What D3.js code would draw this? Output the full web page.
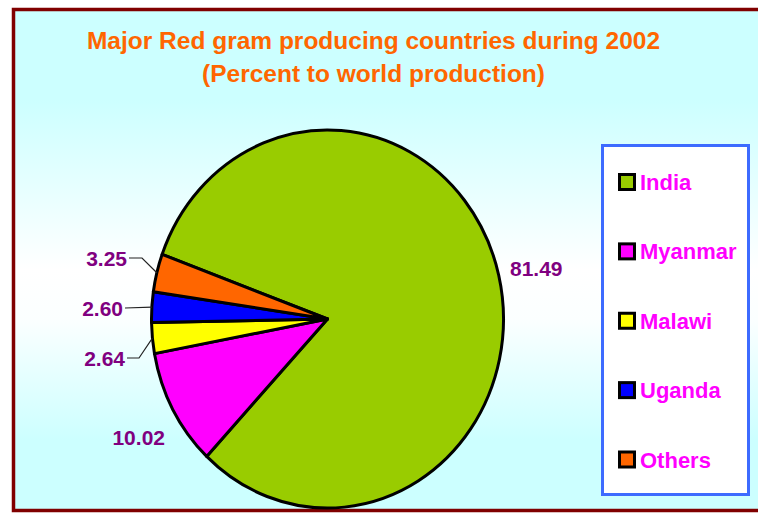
<!DOCTYPE html>
<html>
<head>
<meta charset="utf-8">
<script src="https://cdn.jsdelivr.net/npm/d3@7"></script>
<style>
  html, body { margin: 0; padding: 0; background: #ffffff; }
  svg { display: block; }
  text { font-family: "Liberation Sans", Arial, sans-serif; font-weight: bold; }
</style>
</head>
<body>
<svg id="chart" width="758" height="514"></svg>
<script>
// ---- data ----
const countries = ["India", "Myanmar", "Malawi", "Uganda", "Others"];
const shares = [81.49, 10.02, 2.64, 2.60, 3.25];
const labels = ["81.49", "10.02", "2.64", "2.60", "3.25"];
const sliceColors = ["#99cc00", "#ff00ff", "#ffff00", "#0000ff", "#ff6600"];
const titleLines = ["Major Red gram producing countries during 2002", "(Percent to world production)"];

// ---- layout ----
const W = 758, H = 514;
const cx = 327.5, cy = 319, rx = 176, ry = 189;
const startDeg = -70;
const labelLayout = [
  { tx: 510, ty: 268, anchor: "start", leader: false },
  { tx: 165, ty: 437, anchor: "end", leader: false },
  { tx: 125, ty: 358, anchor: "end", leader: true, elbow: [139, 358] },
  { tx: 123, ty: 308, anchor: "end", leader: true, elbow: null },
  { tx: 127, ty: 258, anchor: "end", leader: true, elbow: [142, 258] }
];

const svg = d3.select("#chart");
const defs = svg.append("defs");
const grad = defs.append("linearGradient").attr("id", "bg")
  .attr("x1", 0).attr("y1", 0).attr("x2", 0).attr("y2", 1);
[[0, "#ccffff"], [0.18, "#ccffff"], [0.52, "#ffffff"], [0.62, "#fbffff"], [0.86, "#ccffff"], [1, "#ccffff"]]
  .forEach(([o, c]) => grad.append("stop").attr("offset", o).attr("stop-color", c));

// frame
svg.append("rect").attr("x", 13.5).attr("y", 9.5).attr("width", 790).attr("height", 501)
  .attr("fill", "url(#bg)").attr("stroke", "#800000").attr("stroke-width", 3.5);

// title
svg.selectAll("text.title").data(titleLines).join("text")
  .attr("class", "title")
  .attr("x", 373.5).attr("y", (d, i) => 49 + i * 33)
  .attr("text-anchor", "middle")
  .attr("fill", "#ff6600").attr("font-size", 24.5)
  .text(d => d);

// pie
const pie = d3.pie().sort(null).value(d => d)
  .startAngle(startDeg * Math.PI / 180)
  .endAngle(startDeg * Math.PI / 180 + 2 * Math.PI);
const arcs = pie(shares);
const arc = d3.arc().innerRadius(0).outerRadius(ry);

const g = svg.append("g").attr("transform", `translate(${cx},${cy}) scale(${rx / ry},1)`);
g.selectAll("path").data(arcs).join("path")
  .attr("d", arc)
  .attr("fill", (d, i) => sliceColors[i])
  .attr("stroke", "#000").attr("stroke-width", 3)
  .attr("stroke-linejoin", "round")
  .attr("vector-effect", "non-scaling-stroke");

function outerPt(d) {
  const a = (d.startAngle + d.endAngle) / 2;
  return [cx + rx * Math.sin(a), cy - ry * Math.cos(a)];
}

// leaders
arcs.forEach((d, i) => {
  const L = labelLayout[i];
  if (!L.leader) return;
  const p = outerPt(d);
  const pts = [[L.tx + 2, L.ty]];
  if (L.elbow) pts.push(L.elbow);
  pts.push(p);
  svg.append("path")
    .attr("d", d3.line()(pts))
    .attr("fill", "none").attr("stroke", "#222").attr("stroke-width", 1.2);
});

// labels
svg.selectAll("text.lbl").data(arcs).join("text")
  .attr("class", "lbl")
  .attr("x", (d, i) => labelLayout[i].tx)
  .attr("y", (d, i) => labelLayout[i].ty + 7.5)
  .attr("text-anchor", (d, i) => labelLayout[i].anchor)
  .attr("fill", "#800080").attr("font-size", 21)
  .text((d, i) => labels[i]);

// legend
const lg = svg.append("g");
lg.append("rect").attr("x", 602.5).attr("y", 145.5).attr("width", 146).attr("height", 349)
  .attr("fill", "#ffffff").attr("stroke", "#3d6bff").attr("stroke-width", 3);
const ly = d3.scalePoint().domain(countries).range([182, 459.5]);
const items = lg.selectAll("g.item").data(countries).join("g")
  .attr("class", "item")
  .attr("transform", d => `translate(0,${ly(d)})`);
items.append("rect").attr("x", 619.5).attr("y", -7.5).attr("width", 15).attr("height", 15)
  .attr("fill", (d, i) => sliceColors[i]).attr("stroke", "#000").attr("stroke-width", 3);
items.append("text").attr("x", 640).attr("y", 8)
  .attr("fill", "#ff00ff").attr("font-size", 22)
  .text(d => d);
</script>
</body>
</html>
